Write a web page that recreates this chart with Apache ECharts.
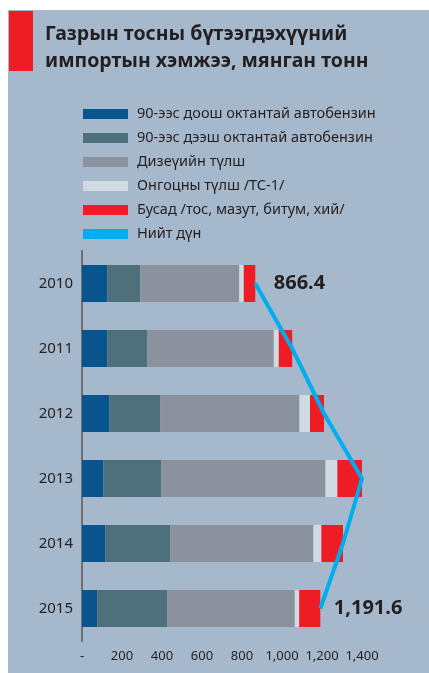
<!DOCTYPE html>
<html>
<head>
<meta charset="utf-8">
<script src="https://cdn.jsdelivr.net/npm/echarts@6/dist/echarts.min.js"></script>
<style>
  html, body { margin: 0; padding: 0; background: #fff; }
  #chart { width: 429px; height: 673px; }
</style>
</head>
<body>
<div id="chart"></div>
<script>
  // 数据
  var years = ['2010', '2011', '2012', '2013', '2014', '2015']
  var seriesNames = [
    '90-ээс доош октантай автобензин',
    '90-ээс дээш октантай автобензин',
    'Дизеүийн түлш',
    'Онгоцны түлш /ТС-1/',
    'Бусад /тос, мазут, битум, хий/'
  ]
  var lineName = 'Нийт дүн'
  var below90 = [126, 127, 137, 107, 117, 77]
  var above90 = [165, 200, 255, 290, 325, 350]
  var diesel = [495, 632, 695, 820, 715, 637]
  var jetFuel = [23, 25, 53, 60, 40, 22]
  var other = [57.4, 67, 70, 123, 108, 105.6]
  var totals = [866.4, 1051, 1210, 1400, 1305, 1191.6]
  var xTicks = [0, 200, 400, 600, 800, 1000, 1200, 1400]

  var colors = ['#08548C', '#4E707A', '#8C929D', '#D0DAE3', '#EE1C25']
  var lineColor = '#00AEEF'
  var textColor = '#231F20'
  var font = 'Noto Sans'

  function fmt(v, d) {
    var s = d ? v.toFixed(d) : String(v)
    var p = s.split('.')
    p[0] = p[0].replace(/\B(?=(\d{3})+(?!\d))/g, ',')
    return p.join('.')
  }

  var myChart = echarts.init(document.getElementById('chart'))

  var barData = [below90, above90, diesel, jetFuel, other]
  var series = barData.map(function (arr, i) {
    return {
      name: seriesNames[i],
      type: 'bar',
      stack: 'total',
      barWidth: 37,
      itemStyle: { color: colors[i] },
      data: arr
    }
  })

  // 总量折线，首尾显示标签
  series.push({
    name: lineName,
    type: 'line',
    symbol: 'circle',
    symbolSize: 1,
    showSymbol: true,
    z: 5,
    lineStyle: { color: lineColor, width: 4 },
    itemStyle: { color: lineColor },
    label: { show: false },
    data: totals.map(function (v, i) {
      var item = { value: [v, years[i]] }
      if (i === 0 || i === totals.length - 1) {
        item.label = {
          show: true,
          position: 'right',
          distance: i === 0 ? 18 : 13,
          formatter: function (p) { return fmt(p.value[0], 1) },
          color: textColor,
          fontFamily: font,
          fontWeight: 'bold',
          fontSize: 20
        }
      }
      return item
    })
  })

  var option = {
    backgroundColor: 'transparent',
    animation: false,
    textStyle: { fontFamily: font },
    graphic: [
      { type: 'rect', z: -10, shape: { x: 8, y: 10, width: 421, height: 663 }, style: { fill: '#A6B8CB' } },
      { type: 'rect', shape: { x: 9, y: 11, width: 24, height: 60 }, style: { fill: '#EE1C25' } },
      {
        type: 'text', left: 45, top: 21,
        style: {
          text: 'Газрын тосны бүтээгдэхүүний\nимпортын хэмжээ, мянган тонн',
          fill: textColor, font: 'bold 19.5px "Noto Sans"', lineHeight: 27
        }
      }
    ],
    legend: {
      orient: 'vertical',
      left: 78,
      top: 101,
      itemWidth: 45,
      itemHeight: 10,
      itemGap: 8,
      icon: 'rect',
      selectedMode: false,
      data: seriesNames.concat([{ name: lineName, icon: 'rect' }]),
      textStyle: { color: textColor, fontSize: 14.5, lineHeight: 16, fontFamily: font, padding: [0, 0, 0, 4] }
    },
    grid: { left: 82, top: 251, width: 320, height: 390 },
    xAxis: {
      type: 'value',
      min: 0,
      max: 1600,
      interval: 200,
      axisLine: { show: false },
      axisTick: { show: false },
      splitLine: { show: false },
      axisLabel: {
        margin: 9,
        color: textColor,
        fontSize: 13,
        formatter: function (v) {
          if (v === 0) return '-'
          if (xTicks.indexOf(v) < 0) return ''
          return fmt(v)
        }
      }
    },
    yAxis: {
      type: 'category',
      inverse: true,
      data: years,
      axisLine: { show: true, lineStyle: { color: '#6D6E71', width: 2 } },
      axisTick: { show: false },
      axisLabel: { margin: 9, color: textColor, fontSize: 15 }
    },
    series: series
  }

  myChart.setOption(option, true)
</script>
</body>
</html>
